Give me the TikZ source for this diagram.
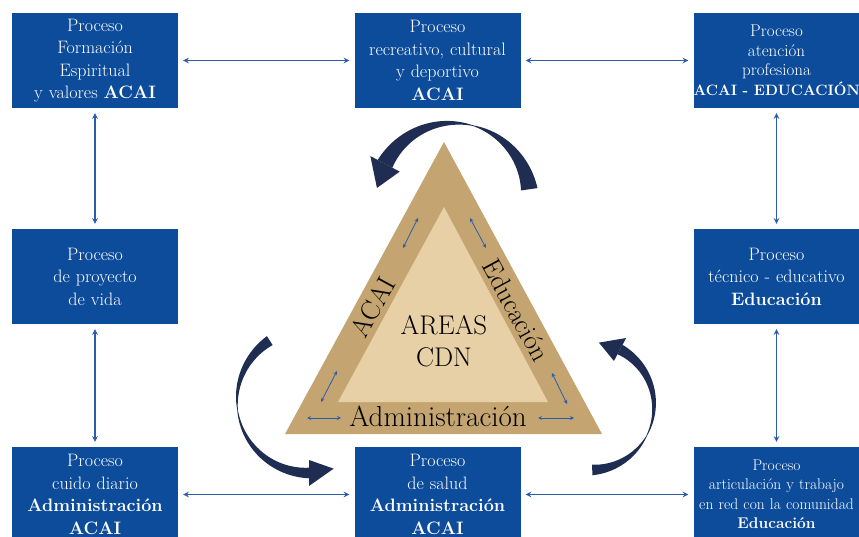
\documentclass[tikz,border=0pt]{standalone}
\definecolor{boxblue}{RGB}{13,76,155}
\definecolor{linkblue}{RGB}{44,92,170}
\definecolor{navy}{RGB}{31,45,82}
\definecolor{sandout}{RGB}{196,165,113}
\definecolor{sandin}{RGB}{232,208,166}

% curved arrow: centre x, centre y, radius, tail angle, thin angle, head angle, width, head length (deg)
\newcommand{\giro}[8]{%
\fill[navy] plot[domain=#5:#4, samples=30] ({#1+(#3+(0.6+#7*abs(\x-(#5))/abs((#4)-(#5)))/2)*cos(\x)}, {#2+(#3+(0.6+#7*abs(\x-(#5))/abs((#4)-(#5)))/2)*sin(\x)})
 -- plot[domain=#4:#5, samples=30] ({#1+(#3-(0.6+#7*abs(\x-(#5))/abs((#4)-(#5)))/2)*cos(\x)}, {#2+(#3-(0.6+#7*abs(\x-(#5))/abs((#4)-(#5)))/2)*sin(\x)}) -- cycle;
\fill[navy] plot[domain=#5:#6, samples=30] ({#1+(#3+(0.6+#7*abs(\x-(#5))/abs((#6)-(#5)))/2)*cos(\x)}, {#2+(#3+(0.6+#7*abs(\x-(#5))/abs((#6)-(#5)))/2)*sin(\x)})
 -- plot[domain=#6:#5, samples=30] ({#1+(#3-(0.6+#7*abs(\x-(#5))/abs((#6)-(#5)))/2)*cos(\x)}, {#2+(#3-(0.6+#7*abs(\x-(#5))/abs((#6)-(#5)))/2)*sin(\x)}) -- cycle;
\fill[navy] ({#1+(#3+0.6*#7+7)*cos(#6)}, {#2+(#3+0.6*#7+7)*sin(#6)}) -- ({#1+#3*cos((#6)-(#8))}, {#2+#3*sin((#6)-(#8))}) -- ({#1+(#3-0.6*#7-7)*cos(#6)}, {#2+(#3-0.6*#7-7)*sin(#6)}) -- cycle;
}

\begin{document}
\begin{tikzpicture}[x=1pt, y=-1pt, node distance=216pt]
\tikzstyle{procbox} = [rectangle, minimum width=166pt, minimum height=95pt, inner sep=0pt, text centered, text width=166pt, fill=boxblue, text=white, font=\fontsize{18}{22.5}\selectfont]

\tikzstyle{smallbox} = [procbox, font=\fontsize{17}{19.5}\selectfont]

\tikzstyle{link} = [<->, >=stealth, linkblue, line width=1.5pt, shorten <=5pt, shorten >=5pt]
\tikzstyle{tiny} = [<->, >=stealth, linkblue, line width=0.8pt]
\tikzstyle{sidetext} = [font=\fontsize{27}{32}\selectfont, text=black, inner sep=1pt]

\useasboundingbox (0,0) rectangle (859,537);

\node (espiritual) [procbox] at (95,60.5) {Proceso\\Formación\\Espiritual\\y valores \textbf{ACAI}};
\node (recreativo) [procbox, right of=espiritual, xshift=126.5pt] {Proceso\\recreativo, cultural\\y deportivo\\\textbf{ACAI}};
\node (atencion) [smallbox, right of=recreativo, xshift=123pt] {Proceso\\atención\\profesiona\\\mbox{\fontsize{15}{19.5}\selectfont\textbf{ACAI - EDUCACIÓN}}};
\node (proyecto) [procbox, below of=espiritual] {Proceso\\de proyecto\\de vida};
\node (tecnico) [procbox, below of=atencion] {Proceso\\técnico - educativo\\\textbf{Educación}};
\node (cuido) [procbox, below of=proyecto, yshift=-2pt] {Proceso\\cuido diario\\\textbf{Administración}\\\textbf{ACAI}};
\node (salud) [procbox, right of=cuido, xshift=126.5pt] {Proceso\\de salud\\\textbf{Administración}\\\textbf{ACAI}};
\node (articulacion) [smallbox, below of=tecnico, yshift=-2pt, font=\fontsize{15.5}{19.5}\selectfont] {Proceso\\articulación y trabajo\\\mbox{en red con la comunidad}\\\textbf{Educación}};

\draw [link] (espiritual) -- (recreativo);
\draw [link] (recreativo) -- (atencion);
\draw [link] (espiritual) -- (proyecto);
\draw [link] (proyecto) -- (cuido);
\draw [link] (atencion) -- (tecnico);
\draw [link] (tecnico) -- (articulacion);
\draw [link] (cuido) -- (salud);
\draw [link] (salud) -- (articulacion);

% triangle
\fill[sandout] (444,142) -- (602,434) -- (285,434) -- cycle;
\fill[sandin] (444,207) -- (548,402) -- (338,402) -- cycle;

\node (areas) [sidetext, align=center] at (444,341) {AREAS\\CDN};
\node (admin) [sidetext, font=\fontsize{29}{32}\selectfont] at (438,416) {Administración};
\node (acai) [sidetext, rotate=61.4] at (373,307) {ACAI};
\node (educ) [sidetext, rotate=-61.4] at (516,310) {Educación};

\draw [tiny] (418,218) -- (403,248);
\draw [tiny] (337,371) -- (321,402);
\draw [tiny] (470,218) -- (486,248);
\draw [tiny] (552,373) -- (567,404);
\draw [tiny] (307,418) -- (341,418);
\draw [tiny] (538,418) -- (574,418);

% turning arrows
\giro{453}{200}{77}{-8}{-75}{-152}{16}{19}
\giro{309}{401}{72}{237}{173}{90}{10}{20}
\giro{590}{406}{64}{88}{28}{-62}{10}{20}

\end{tikzpicture}
\end{document}
